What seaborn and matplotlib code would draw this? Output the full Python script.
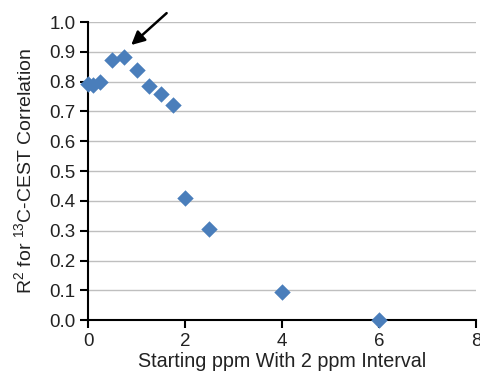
import matplotlib
matplotlib.use("Agg")
import matplotlib.pyplot as plt
import seaborn as sns
import pandas as pd

start_ppm = [0.0, 0.1, 0.25, 0.5, 0.75, 1.0, 1.25, 1.5, 1.75, 2.0, 2.5, 4.0, 6.0]
r2_values = [0.792, 0.79, 0.80, 0.873, 0.884, 0.838, 0.787, 0.758, 0.721, 0.41, 0.307, 0.093, 0.0]
x_ticks = [0, 2, 4, 6, 8]
y_ticks = [0.0, 0.1, 0.2, 0.3, 0.4, 0.5, 0.6, 0.7, 0.8, 0.9, 1.0]

sns.set_style("white")
plt.rcParams['font.family'] = ['Liberation Sans', 'DejaVu Sans']
plt.rcParams['mathtext.fontset'] = 'custom'
plt.rcParams['mathtext.rm'] = 'Liberation Sans'
plt.rcParams['mathtext.it'] = 'Liberation Sans'

df = pd.DataFrame({"x": start_ppm, "y": r2_values})

fig = plt.figure(figsize=(4.81, 3.74), dpi=100)
ax = fig.add_axes([0.183, 0.144, 0.807, 0.797])

sns.scatterplot(data=df, x="x", y="y", marker="D", s=70, color="#4A7EBB",
                edgecolor="#4A7EBB", linewidth=0, ax=ax, zorder=3, clip_on=False)

ax.set_xlim(0, 8)
ax.set_ylim(0, 1.0)
ax.set_xticks(x_ticks)
ax.set_yticks(y_ticks)
ax.set_xticklabels([str(t) for t in x_ticks])
ax.set_yticklabels([f"{t:.1f}" for t in y_ticks])
ax.yaxis.grid(True, color="#BFBFBF", linewidth=1.0)
ax.xaxis.grid(False)
ax.set_axisbelow(True)

for s in ["top", "right"]:
    ax.spines[s].set_visible(False)
for s in ["left", "bottom"]:
    ax.spines[s].set_color("black")
    ax.spines[s].set_linewidth(1.5)

ax.tick_params(axis="both", which="major", direction="out", length=6, width=1.5,
               color="black", labelsize=13.5, labelcolor="#222222", left=True, bottom=True, pad=3)

ax.set_xlabel("Starting ppm With 2 ppm Interval", fontsize=14.2, color="#222222", labelpad=2)
ax.set_ylabel("R$^{2}$ for $^{13}$C-CEST Correlation", fontsize=14, color="#222222", labelpad=10)

ax.annotate("", xy=(0.89, 0.923), xytext=(1.62, 1.03),
            xycoords="data", textcoords="data", annotation_clip=False,
            arrowprops=dict(arrowstyle="-|>,head_length=0.8,head_width=0.4",
                            color="black", lw=1.8, shrinkA=0, shrinkB=0))

fig.savefig("out.png", dpi=100)
